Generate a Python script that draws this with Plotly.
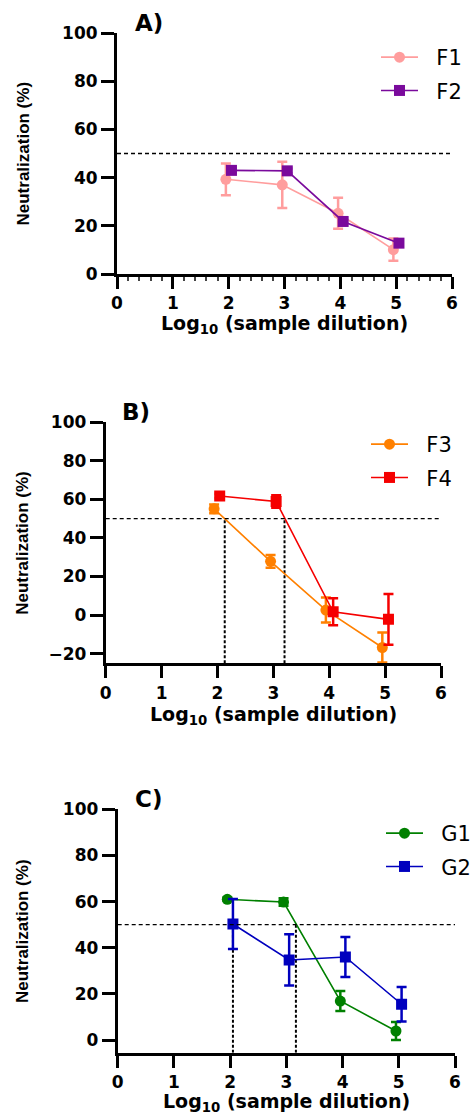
import plotly.graph_objects as go

W, H = 472, 1115

# ---------------- data ----------------
# Panel A
f1_x = [1.95, 2.96, 3.96, 4.95]
f1_y = [39.3, 37.0, 25.2, 10.1]
f1_err = [6.6, 9.6, 6.4, 4.6]
f2_x = [2.05, 3.05, 4.05, 5.05]
f2_y = [43.0, 42.8, 21.8, 12.8]
f2_err = [1.0, 1.0, 1.2, 1.5]
# Panel B
f3_x = [1.94, 2.95, 3.94, 4.95]
f3_y = [55.1, 27.9, 2.6, -16.8]
f3_err = [2.3, 3.3, 6.5, 7.8]
f4_x = [2.04, 3.05, 4.07, 5.06]
f4_y = [61.8, 58.9, 1.7, -2.2]
f4_err = [1.2, 3.2, 7.0, 13.2]
ic50_B = [2.13, 3.20]
# Panel C
g1_x = [1.95, 2.95, 3.96, 4.95]
g1_y = [61.0, 59.8, 16.9, 3.9]
g1_err = [0.8, 1.6, 4.3, 3.9]
g2_x = [2.05, 3.05, 4.05, 5.05]
g2_y = [50.3, 34.7, 36.0, 15.5]
g2_err = [10.8, 11.1, 8.7, 7.5]
ic50_C = [2.05, 3.17]

x_ticks = [0, 1, 2, 3, 4, 5, 6]
yticks_A = [0, 20, 40, 60, 80, 100]
yticks_B = [-20, 0, 20, 40, 60, 80, 100]
yticks_C = [0, 20, 40, 60, 80, 100]
threshold = 50

# ---------------- style ----------------
FONT = "DejaVu Sans"
YFONT = "Liberation Sans"
NB = "\u00a0\u00a0"

panels = [
    dict(xp=(117, 452), yp=(33, 274), yr=[0, 100], yt=yticks_A, lab="A)", lx=133, ly=23, xty=325, minor=True),
    dict(xp=(105.7, 441), yp=(422.3, 663.3), yr=[-25, 100], yt=yticks_B, lab="B)", lx=120, ly=412, xty=715, minor=False),
    dict(xp=(117.7, 455), yp=(809.3, 1052.7), yr=[-5.5, 100], yt=yticks_C, lab="C)", lx=133, ly=799, xty=1102, minor=False),
]

series = [
    [("F1", f1_x, f1_y, f1_err, "#FF9D9D", "circle"), ("F2", f2_x, f2_y, f2_err, "#7A0A9C", "square")],
    [("F3", f3_x, f3_y, f3_err, "#FF8000", "circle"), ("F4", f4_x, f4_y, f4_err, "#F50000", "square")],
    [("G1", g1_x, g1_y, g1_err, "#008000", "circle"), ("G2", g2_x, g2_y, g2_err, "#0000BE", "square")],
]
ic50s = [None, ic50_B, ic50_C]
legend_pos = [(376, 37), (366, 424), (381, 813)]

fig = go.Figure()
layout = dict(
    width=W, height=H, margin=dict(l=0, r=0, t=0, b=0, autoexpand=False),
    paper_bgcolor="white", plot_bgcolor="white", showlegend=True,
    shapes=[], annotations=[],
)

for i, p in enumerate(panels):
    sfx = "" if i == 0 else str(i + 1)
    xa, ya = "x" + sfx, "y" + sfx
    leg = "legend" + sfx
    xd = [p["xp"][0] / W, p["xp"][1] / W]
    yd = [1 - p["yp"][1] / H, 1 - p["yp"][0] / H]
    xaxis = dict(
        domain=xd, range=[0, 6], anchor=ya, tickvals=x_ticks, showgrid=False, zeroline=False,
        showline=True, linewidth=3, linecolor="black", ticks="outside", ticklen=12, tickwidth=3,
        tickcolor="black", tickfont=dict(family=FONT, size=17, color="black", weight="bold"),
        automargin=False,
    )
    if p["minor"]:
        xaxis["minor"] = dict(dtick=0.2, ticks="outside", ticklen=4, tickwidth=1.5, tickcolor="#444")
    yaxis = dict(
        domain=yd, range=p["yr"], anchor=xa, tickvals=p["yt"], showgrid=False, zeroline=False,
        showline=True, linewidth=3, linecolor="black", ticks="outside", ticklen=13, tickwidth=3,
        tickcolor="black", tickfont=dict(family=FONT, size=17, color="black", weight="bold"),
        automargin=False,
    )
    layout["xaxis" + sfx] = xaxis
    layout["yaxis" + sfx] = yaxis

    # 50% threshold line
    layout["shapes"].append(dict(type="line", xref=xa, yref=ya, x0=0, x1=6, y0=threshold, y1=threshold,
                                 line=dict(color="black", width=1.3, dash="4px,3px")))
    # IC50 drop lines
    if ic50s[i]:
        for v in ic50s[i]:
            fig.add_trace(go.Scatter(x=[v, v], y=[p["yr"][0], threshold], mode="lines", xaxis=xa, yaxis=ya,
                                     line=dict(color="black", width=2, dash="3px,2px"), showlegend=False,
                                     hoverinfo="skip"))
    for name, xs, ys, es, col, sym in series[i]:
        fig.add_trace(go.Scatter(
            x=xs, y=ys, name=NB + name, mode="lines+markers", xaxis=xa, yaxis=ya, legend=leg,
            legendgroup=name,
            line=dict(color=col, width=1.6),
            marker=dict(color=col, symbol=sym, size=11),
            error_y=dict(type="data", array=es, visible=True, color=col, thickness=2.5, width=5),
        ))
    lx, ly = legend_pos[i]
    layout[leg] = dict(x=lx / W, y=1 - ly / H, xanchor="left", yanchor="top",
                       font=dict(family=FONT, size=21, color="black"), bgcolor="rgba(0,0,0,0)",
                       itemwidth=37, tracegroupgap=3)

    # panel label
    layout["annotations"].append(dict(text="<b>%s</b>" % p["lab"], xref="paper", yref="paper",
                                      x=p["lx"] / W, y=1 - p["ly"] / H, xanchor="left", yanchor="middle",
                                      showarrow=False, font=dict(family=FONT, size=23, color="black")))
    # y title
    layout["annotations"].append(dict(text="<b>Neutralization (%)</b>", xref="paper", yref="paper",
                                      x=23 / W, y=1 - (p["yp"][0] + p["yp"][1]) / 2 / H, textangle=-90,
                                      xanchor="center", yanchor="middle", showarrow=False,
                                      font=dict(family=YFONT, size=17, color="black")))
    # x title
    layout["annotations"].append(dict(text="<b>Log<sub>10</sub> (sample dilution)</b>", xref="paper", yref="paper",
                                      x=(p["xp"][0] + p["xp"][1]) / 2 / W, y=1 - p["xty"] / H,
                                      xanchor="center", yanchor="middle", showarrow=False,
                                      font=dict(family=FONT, size=19, color="black")))

fig.update_layout(**layout)
fig.write_html("out.html", config={"displayModeBar": False},
               post_script="document.body.style.margin='0';document.body.style.overflow='hidden';")
